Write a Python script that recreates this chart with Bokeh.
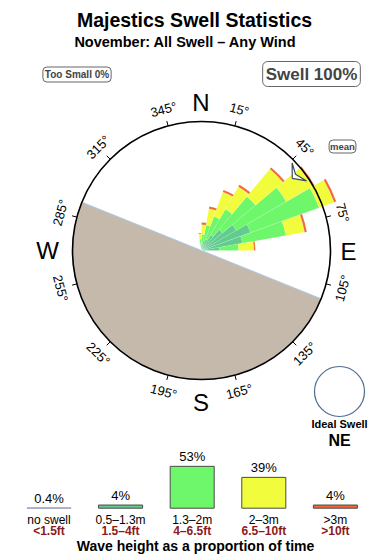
import math
from bokeh.plotting import figure
from bokeh.models import Range1d, Label, ColumnDataSource
from bokeh.core.properties import value
from bokeh.embed import file_html
from bokeh.resources import INLINE

# ---------------- data ----------------
title_text = "Majestics Swell Statistics"
subtitle_text = "November: All Swell – Any Wind"

# swell direction bins (start bearing, 10 degrees wide) and % of time per height band
dir_start = [350, 0, 10, 20, 30, 40, 50, 60, 70, 80]
bin_width = 10
pct_05_13 = [0.7, 0.9, 1.3, 1.6, 2.4, 3.6, 5.3, 6.9, 5.5, 2.4]
pct_13_2 = [0.8, 1.2, 2.1, 3.2, 3.9, 5.7, 7.6, 9.6, 5.8, 2.5]
pct_2_3 = [0.7, 1.3, 2.2, 3.4, 3.4, 4.7, 4.0, 2.1, 2.5, 2.0]
pct_3_up = [0.1, 0.3, 0.3, 0.3, 0.3, 0.3, 0.3, 0.3, 0.3, 0.2]
band_colors = ["#62cc8e", "#6ef76a", "#f0fc3c", "#f2683a"]

ring_max = 17.0                      # % at the compass ring
tick_bearings = [15, 45, 75, 105, 135, 165, 195, 225, 255, 285, 315, 345]
cardinals = ["N", "E", "S", "W"]
mean_dir = 51
land_from, land_to = 112, 292        # land sector, clockwise bearings
ideal_dir = "NE"
too_small_pct = 0
swell_pct = 100

legend_m = ["no swell", "0.5–1.3m", "1.3–2m", "2–3m", ">3m"]
legend_ft = ["<1.5ft", "1.5–4ft", "4–6.5ft", "6.5–10ft", ">10ft"]
legend_pct = [0.4, 4, 53, 39, 4]
legend_pct_text = ["0.4%", "4%", "53%", "39%", "4%"]
legend_colors = ["#9c9cc0", "#62cc8e", "#6ef76a", "#f0fc3c", "#f2683a"]
legend_lines = ["#9c9cc0", "#4a4a4a", "#4a4a4a", "#4a4a4a", "#4a4a4a"]

# ---------------- layout constants ----------------
W, H = 390, 560
CX, CY = 201, 250          # rose centre in px from top-left
R_PX = 129                 # ring radius in px
K = R_PX / ring_max        # px per %
BAR0, BAR_STEP = 48.5, 71.6
BAR_BASE, BAR_SCALE = 507.7, 0.79
FONT = value("Liberation Sans")
rad = math.radians

p = figure(width=W, height=H, output_backend="svg", toolbar_location=None,
           x_range=Range1d(-CX / K, (W - CX) / K),
           y_range=Range1d(-(H - CY) / K, CY / K),
           x_axis_type=None, y_axis_type=None, min_border=0,
           outline_line_color=None, background_fill_color="white",
           border_fill_color="white")
p.grid.visible = False
p.extra_x_ranges = {"px": Range1d(0, W),
                    "cat": Range1d(-BAR0 / BAR_STEP, (W - BAR0) / BAR_STEP)}
p.extra_y_ranges = {"px": Range1d(H, 0),
                    "bar": Range1d(-(H - BAR_BASE) / BAR_SCALE, BAR_BASE / BAR_SCALE)}

# land sector
p.wedge(x=0, y=0, radius=ring_max, start_angle=rad(90 - land_to), end_angle=rad(90 - land_from),
        fill_color="#c5b9ac", line_color="#a9c9e6", line_width=1)

# rose wedges
bands = [pct_05_13, pct_13_2, pct_2_3, pct_3_up]
inner, outer, st, en, col = [], [], [], [], []
cum = [0.0] * len(dir_start)
for band, c in zip(bands, band_colors):
    for i, b in enumerate(dir_start):
        inner.append(cum[i])
        outer.append(cum[i] + band[i])
        st.append(rad(90 - (b + bin_width)))
        en.append(rad(90 - b))
        col.append(c)
        cum[i] += band[i]
src = ColumnDataSource(dict(inner=inner, outer=outer, start=st, end=en, color=col))
p.annular_wedge(x=0, y=0, inner_radius="inner", outer_radius="outer",
                start_angle="start", end_angle="end",
                fill_color="color", line_color="white", line_alpha=0.25,
                line_width=0.5, source=src)

# compass ring
p.circle(x=[0], y=[0], radius=ring_max, fill_color=None, line_color="black", line_width=1.6)

# ticks and tick labels
r0, r1, rl = ring_max, ring_max + 5 / K, 146 / K
tx0, ty0, tx1, ty1, lx, ly, la, lt = [], [], [], [], [], [], [], []
for b in tick_bearings:
    s, c = math.sin(rad(b)), math.cos(rad(b))
    tx0.append(r0 * s); ty0.append(r0 * c)
    tx1.append(r1 * s); ty1.append(r1 * c)
    lx.append(rl * s); ly.append(rl * c)
    la.append(rad(-b if (b < 90 or b > 270) else 180 - b))
    lt.append(f"{b}°")
p.segment(x0=tx0, y0=ty0, x1=tx1, y1=ty1, line_color="black", line_width=1)
p.text(x=lx, y=ly, text=lt, angle=la, text_align="center",
       text_baseline="middle", text_font_size="13px", text_font=FONT, text_color="black")

# mean direction arrow
def polar(r_px, b):
    return (r_px / K * math.sin(rad(b)), r_px / K * math.cos(rad(b)))
pts = [polar(116, mean_dir + 0.5), polar(126, mean_dir - 5), polar(121, mean_dir),
       polar(126, mean_dir + 5.5)]
p.patch(x=[q[0] for q in pts], y=[q[1] for q in pts], fill_color="white",
        line_color="#3d4d5d", line_width=1.2)

# cardinal letters
p.text(x=[200.5, 348, 200.5, 47], y=[101.5, 251, 401.5, 250], text=cardinals,
       x_range_name="px", y_range_name="px", text_align="center", text_baseline="middle",
       text_font_size="24px", text_font=FONT, text_color="black")

# titles
p.text(x=[194], y=[19], text=[title_text], x_range_name="px", y_range_name="px",
       text_align="center", text_baseline="middle", text_font_size="19.5px",
       text_font_style="bold", text_font=FONT, text_color="black")
p.text(x=[185], y=[41.5], text=[subtitle_text], x_range_name="px", y_range_name="px",
       text_align="center", text_baseline="middle", text_font_size="14.5px",
       text_font_style="bold", text_font=FONT, text_color="black")

# boxed labels
p.add_layout(Label(x=76.5, y=74, x_range_name="px", y_range_name="px",
                   text=f"Too Small {too_small_pct}%", text_align="center",
                   text_baseline="middle", text_font_size="10px", text_font_style="bold",
                   text_font="Liberation Sans", border_line_color="#666666",
                   border_line_width=1, background_fill_color="white",
                   padding=2, border_radius=4))
p.add_layout(Label(x=311, y=73.5, x_range_name="px", y_range_name="px",
                   text=f"Swell {swell_pct}%", text_align="center",
                   text_baseline="middle", text_font_size="17px", text_font_style="bold",
                   text_font="Liberation Sans", border_line_color="#666666",
                   border_line_width=1, background_fill_color="white",
                   padding=3, border_radius=5))
p.add_layout(Label(x=342, y=146, x_range_name="px", y_range_name="px",
                   text="mean", text_align="center",
                   text_baseline="middle", text_font_size="9.5px", text_font_style="bold",
                   text_font="Liberation Sans", border_line_color="#666666",
                   border_line_width=1, background_fill_color="white",
                   padding=1, border_radius=4))

# ideal swell
p.circle(x=[339], y=[391], radius=25, x_range_name="px", y_range_name="px",
         fill_color=None, line_color="#4d6b8f", line_width=1.2)
p.text(x=[339], y=[423], text=["Ideal Swell"], x_range_name="px", y_range_name="px",
       text_align="center", text_baseline="middle", text_font_size="11px",
       text_font_style="bold", text_font=FONT, text_color="black")
p.text(x=[339], y=[440], text=[ideal_dir], x_range_name="px", y_range_name="px",
       text_align="center", text_baseline="middle", text_font_size="16px",
       text_font_style="bold", text_font=FONT, text_color="black")

# legend bars
idx = list(range(len(legend_pct)))
p.vbar(x=idx, top=legend_pct, bottom=0, width=0.615, x_range_name="cat",
       y_range_name="bar", fill_color=legend_colors, line_color=legend_lines, line_width=1)
p.text(x=idx, y=legend_pct, text=legend_pct_text, x_range_name="cat", y_range_name="bar",
       text_align="center", text_baseline="bottom", y_offset=-2, text_font_size="13px",
       text_font=FONT, text_color="black")
p.text(x=idx, y=[519] * len(idx), text=legend_m, x_range_name="cat", y_range_name="px",
       text_align="center", text_baseline="middle", text_font_size="12px",
       text_font=FONT, text_color="black")
p.text(x=idx, y=[530] * len(idx), text=legend_ft, x_range_name="cat", y_range_name="px",
       text_align="center", text_baseline="middle", text_font_size="12px",
       text_font_style="bold", text_font=FONT, text_color="#8b1a1a")
p.text(x=[195], y=[545], text=["Wave height as a proportion of time"], x_range_name="px",
       y_range_name="px", text_align="center", text_baseline="middle",
       text_font_size="14px", text_font_style="bold", text_font=FONT, text_color="black")

open("out.html", "w").write(file_html(p, INLINE))
